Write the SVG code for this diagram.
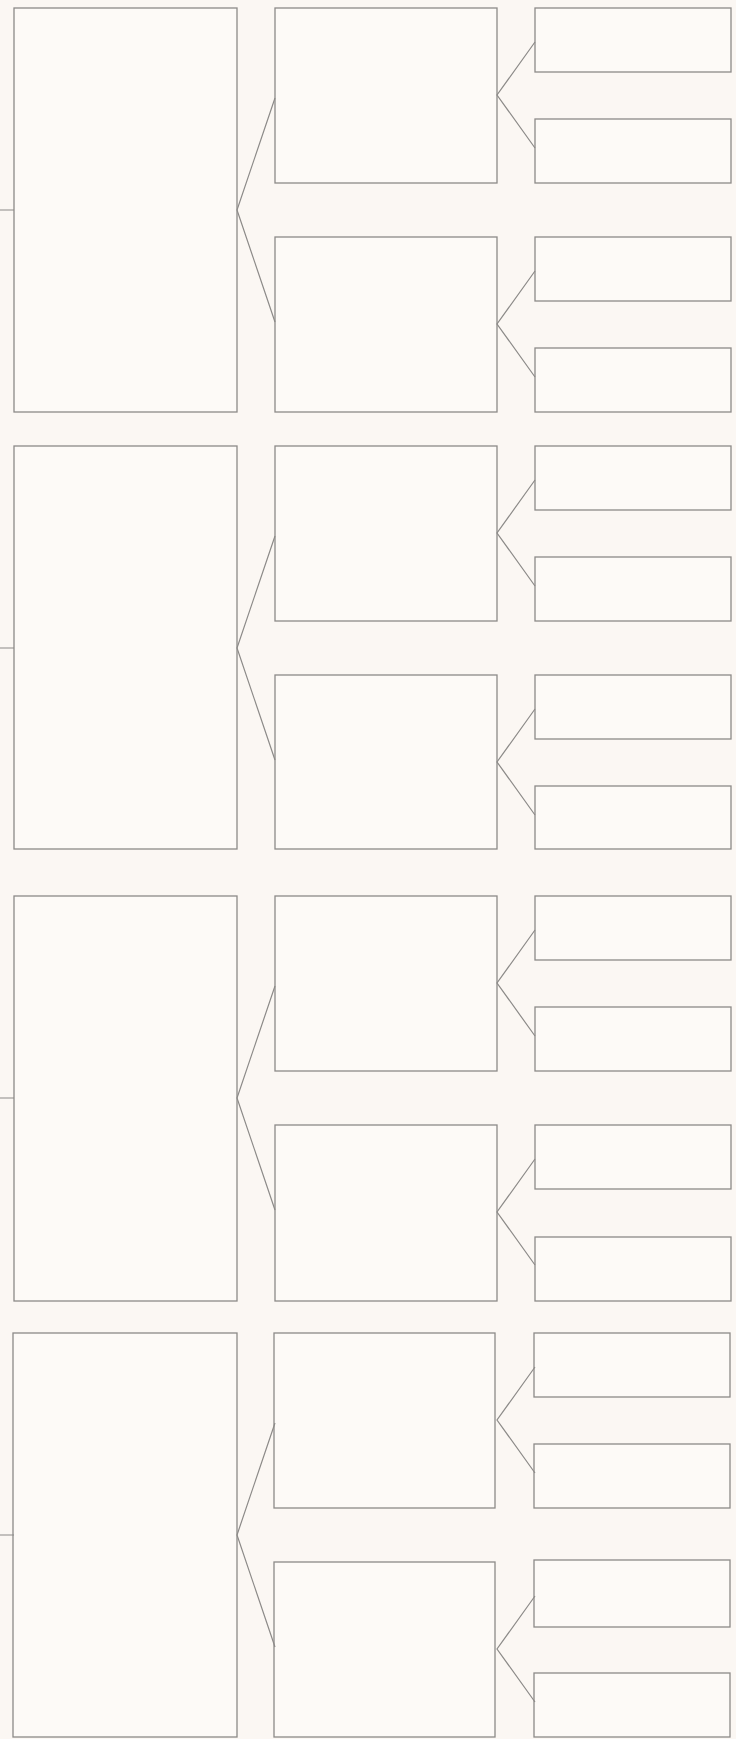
<svg xmlns="http://www.w3.org/2000/svg" width="736" height="1739" viewBox="0 0 736 1739">
<style>
.bx{fill:#fdfaf7;stroke:#8c8a88;stroke-width:1.3}
.ln{fill:none;stroke:#8c8a88;stroke-width:1.2}
</style>
<rect x="0" y="0" width="736" height="1739" fill="#fbf7f3"/>
<defs>
<g id="tpl">
<rect class="bx" x="14" y="0" width="223" height="404"/>
<rect class="bx" x="275" y="0" width="222" height="175"/>
<rect class="bx" x="275" y="229" width="222" height="175"/>
<rect class="bx" x="535" y="0" width="196" height="64"/>
<rect class="bx" x="535" y="111" width="196" height="64"/>
<rect class="bx" x="535" y="229" width="196" height="64"/>
<rect class="bx" x="535" y="340" width="196" height="64"/>
</g>
<g id="tplc">
<path class="ln" d="M0 202H14M275 90L237 202L275 314M535 34L497 87L535 140M535 263L497 316L535 369"/>
</g>
</defs>
<g id="group1" transform="translate(0,8)">
<g id="n1-root"><rect class="bx" x="14" y="0" width="223" height="404"/></g>
<g id="n1-a"><rect class="bx" x="275" y="0" width="222" height="175"/></g>
<g id="n1-b"><rect class="bx" x="275" y="229" width="222" height="175"/></g>
<g id="n1-a1"><rect class="bx" x="535" y="0" width="196" height="64"/></g>
<g id="n1-a2"><rect class="bx" x="535" y="111" width="196" height="64"/></g>
<g id="n1-b1"><rect class="bx" x="535" y="229" width="196" height="64"/></g>
<g id="n1-b2"><rect class="bx" x="535" y="340" width="196" height="64"/></g>
</g>
<g id="group2" transform="translate(0,446)">
<g id="n2-root"><rect class="bx" x="14" y="0" width="223" height="403"/></g>
<g id="n2-a"><rect class="bx" x="275" y="0" width="222" height="175"/></g>
<g id="n2-b"><rect class="bx" x="275" y="229" width="222" height="174"/></g>
<g id="n2-a1"><rect class="bx" x="535" y="0" width="196" height="64"/></g>
<g id="n2-a2"><rect class="bx" x="535" y="111" width="196" height="64"/></g>
<g id="n2-b1"><rect class="bx" x="535" y="229" width="196" height="64"/></g>
<g id="n2-b2"><rect class="bx" x="535" y="340" width="196" height="63"/></g>
</g>
<g id="group3" transform="translate(0,896)">
<g id="n3-root"><rect class="bx" x="14" y="0" width="223" height="405"/></g>
<g id="n3-a"><rect class="bx" x="275" y="0" width="222" height="175"/></g>
<g id="n3-b"><rect class="bx" x="275" y="229" width="222" height="176"/></g>
<g id="n3-a1"><rect class="bx" x="535" y="0" width="196" height="64"/></g>
<g id="n3-a2"><rect class="bx" x="535" y="111" width="196" height="64"/></g>
<g id="n3-b1"><rect class="bx" x="535" y="229" width="196" height="64"/></g>
<g id="n3-b2"><rect class="bx" x="535" y="341" width="196" height="64"/></g>
</g>
<g id="group4" transform="translate(0,1333)">
<g id="n4-root"><rect class="bx" x="13" y="0" width="224" height="404"/></g>
<g id="n4-a"><rect class="bx" x="274" y="0" width="221" height="175"/></g>
<g id="n4-b"><rect class="bx" x="274" y="229" width="221" height="175"/></g>
<g id="n4-a1"><rect class="bx" x="534" y="0" width="196" height="64"/></g>
<g id="n4-a2"><rect class="bx" x="534" y="111" width="196" height="64"/></g>
<g id="n4-b1"><rect class="bx" x="534" y="227" width="196" height="67"/></g>
<g id="n4-b2"><rect class="bx" x="534" y="340" width="196" height="64"/></g>
</g>
<g id="connectors">
<use href="#tplc" transform="translate(0,8)"/>
<use href="#tplc" transform="translate(0,446)"/>
<use href="#tplc" transform="translate(0,896)"/>
<use href="#tplc" transform="translate(0,1333)"/>
</g>
</svg>
